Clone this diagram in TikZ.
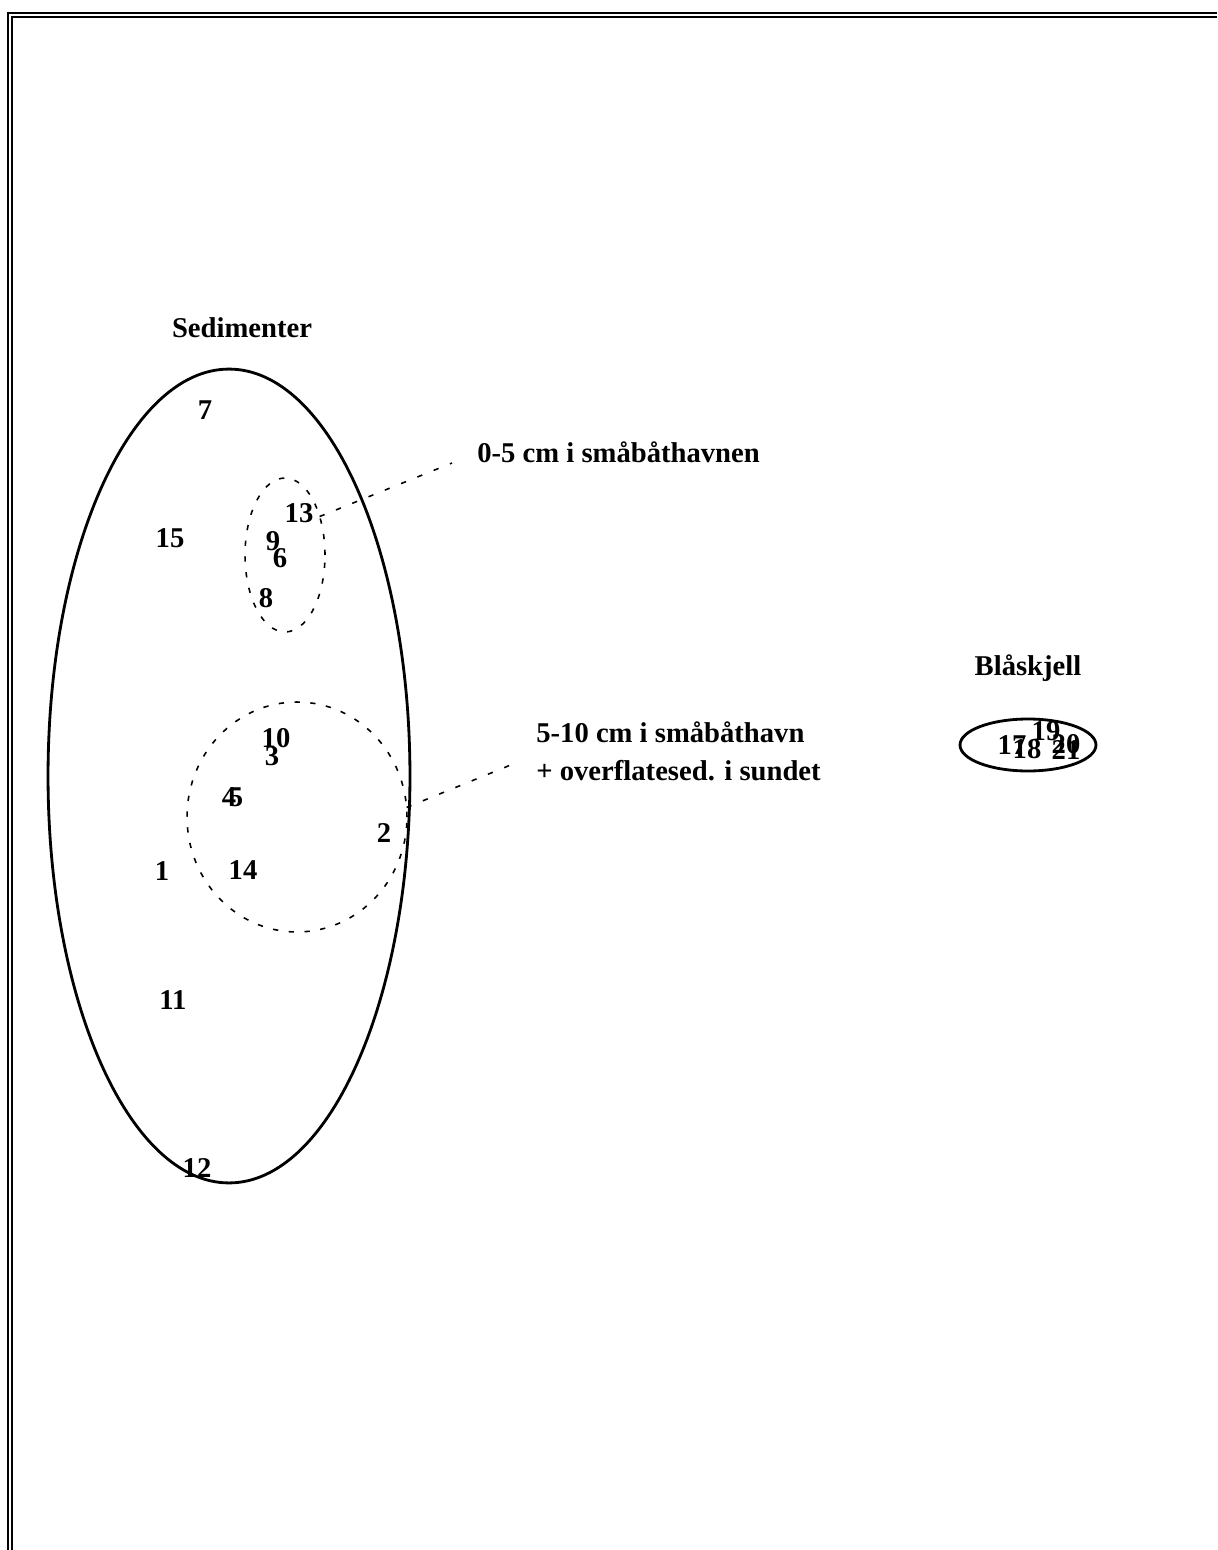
\documentclass[tikz,border=0pt]{standalone}
\usepackage{fontspec}
\setmainfont{Liberation Serif}
\usetikzlibrary{shapes.geometric}
\begin{document}
\begin{tikzpicture}[
    x=0.02cm, y=-0.02cm,
    lbl/.style={font=\fontsize{16.3}{19}\selectfont\bfseries, inner sep=0pt},
    num/.style={lbl},
    group/.style={ellipse, draw, line width=1.6pt, inner sep=0pt, outer sep=0pt},
    sub/.style={ellipse, draw, line width=0.9pt, dash pattern=on 3pt off 6pt,
      inner sep=0pt, outer sep=0pt},
    lead/.style={line width=0.9pt, dash pattern=on 3pt off 7pt}
  ]
  \useasboundingbox (0,0) rectangle (1217,1550);
  % frame
  \draw[line width=0.9pt] (1217,13) -- (8,13) -- (8,1550);
  \draw[line width=0.9pt] (1217,17) -- (12,17) -- (12,1550);

  % Sedimenter side
  \node[lbl, anchor=base] (sedlab) at (242, 338) {Sedimenter};
  \node[group, minimum width=7.24cm, minimum height=16.28cm] (sed) at (229, 776) {};
  \node[sub, minimum width=1.6cm, minimum height=3.08cm] (top5) at (285, 555) {};
  \node[sub, minimum width=4.4cm, minimum height=4.6cm] (deep) at (297, 817) {};

  \node[num] (n7) at (205, 410) {7};
  \node[num] (n15) at (170, 538) {15};
  \node[num] (n13) at (299, 513) {13};
  \node[num] (n9) at (273, 541) {9};
  \node[num] (n6) at (280, 558) {6};
  \node[num] (n8) at (266, 598) {8};
  \node[num] (n10) at (276, 738) {10};
  \node[num] (n3) at (272, 756) {3};
  \node[num] (n4) at (229, 797) {4};
  \node[num] (n5) at (236, 797) {5};
  \node[num] (n2) at (384, 833) {2};
  \node[num] (n1) at (162, 871) {1};
  \node[num] (n14) at (243, 870) {14};
  \node[num] (n11) at (173, 1000) {11};
  \node[num] (n12) at (197, 1168) {12};

  % labels for the two subgroups
  \node[lbl, anchor=base west] (lab05) at (477, 462) {0-5 cm i småbåthavnen};
  \node[lbl, anchor=base west] (lab510) at (536, 742) {5-10 cm i småbåthavn};
  \node[lbl, anchor=base west] (lab510b) at (536, 780) {+ overflatesed. i sundet};
  \coordinate (e05) at (452, 463);
  \coordinate (e510) at (518, 762);
  \draw[lead] (top5.48) -- (e05);
  \draw[lead] (deep.5) -- (e510);

  % Blåskjell side
  \node[lbl, anchor=base] (muslab) at (1028, 675) {Blåskjell};
  \node[group, minimum width=2.72cm, minimum height=1.04cm] (musl) at (1028, 745) {};
  \node[num] (n17) at (1012, 745) {17};
  \node[num] (n18) at (1027, 749) {18};
  \node[num] (n19) at (1046, 731) {19};
  \node[num] (n20) at (1066, 744) {20};
  \node[num] (n21) at (1066, 750) {21};
\end{tikzpicture}
\end{document}
